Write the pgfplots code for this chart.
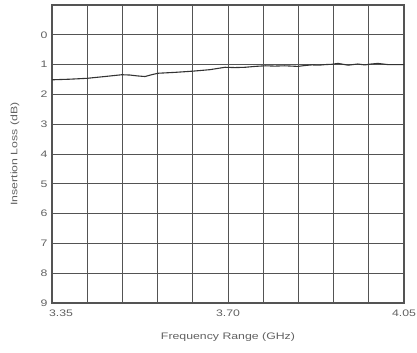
\documentclass[border=0pt]{standalone}
\usepackage{fontspec}
\setmainfont{Liberation Sans}[FakeStretch=1.3]
\usepackage{pgfplots}
\pgfplotsset{compat=1.18}
\definecolor{gridc}{gray}{0.33}
\definecolor{txtc}{gray}{0.38}
\begin{document}
\begin{tikzpicture}
\begin{axis}[
  scale only axis,
  width=352bp, height=298bp,
  xmin=3.35, xmax=4.05,
  ymin=-1, ymax=9,
  y dir=reverse,
  xtick={3.35,3.70,4.05},
  xticklabels={{\hspace*{18bp}3.35},3.70,4.05},
  minor xtick={3.42,3.49,3.56,3.63,3.77,3.84,3.91,3.98},
  ytick={0,1,...,9},
  minor ytick={-1},
  grid=both,
  major grid style={draw=gridc, line width=1bp},
  minor grid style={draw=gridc, line width=1bp},
  axis line style={draw=gridc, line width=1.1bp},
  major tick length=0pt, minor tick length=0pt,
  tick label style={font=\fontsize{9.5}{10}\selectfont, text=txtc},
  /pgf/number format/assume math mode=true,
  xticklabel style={yshift=-3bp},
  yticklabel style={xshift=-1bp},
  xlabel={Frequency Range (GHz)},
  ylabel={Insertion Loss (dB)},
  every axis x label/.style={at={(axis description cs:0.5,-0.114)}, anchor=center, font=\fontsize{9.5}{10}\selectfont, text=txtc},
  every axis y label/.style={at={(axis description cs:-0.105,0.5)}, anchor=center, rotate=90, font=\fontsize{9.5}{10}\selectfont, text=txtc},
]
\addplot[color=black!80, line width=1.1bp, no markers] coordinates {
(3.350,1.51) (3.385,1.49) (3.420,1.46) (3.455,1.40) (3.489,1.34)
(3.505,1.35) (3.520,1.38) (3.535,1.40) (3.548,1.34) (3.561,1.29)
(3.595,1.26) (3.630,1.22) (3.664,1.17) (3.694,1.09) (3.714,1.10)
(3.734,1.09) (3.754,1.06) (3.774,1.04) (3.793,1.05) (3.813,1.04)
(3.839,1.06) (3.853,1.03) (3.867,1.01) (3.880,1.02) (3.893,1.00)
(3.906,0.99) (3.919,0.96) (3.939,1.02) (3.958,0.98) (3.972,1.01)
(3.985,0.98) (3.998,0.96) (4.018,1.00) (4.035,1.00) (4.050,1.00)
};
\end{axis}
\pgfresetboundingbox
\path ([shift={(-52bp,-49bp)}]current axis.south west) rectangle ([shift={(13bp,5bp)}]current axis.north east);
\end{tikzpicture}
\end{document}
